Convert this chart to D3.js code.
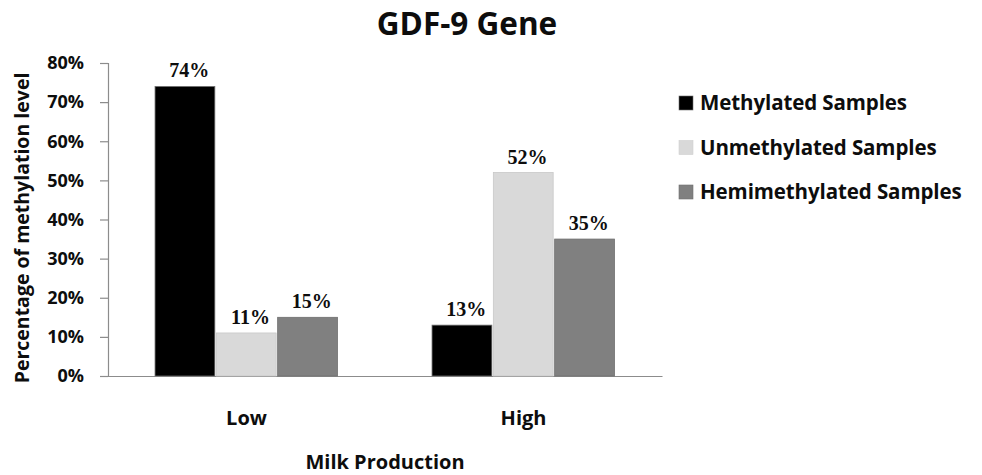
<!DOCTYPE html>
<html>
<head>
<meta charset="utf-8">
<script src="https://cdn.jsdelivr.net/npm/d3@7"></script>
<style>
  html, body { margin: 0; padding: 0; background: #fff; }
  svg { display: block; }
</style>
</head>
<body>
<svg id="chart" width="982" height="475"></svg>
<script>
// Milk production groups and methylation status series
const categories = ["Low", "High"];
const seriesNames = ["Methylated Samples", "Unmethylated Samples", "Hemimethylated Samples"];
const methylated = [74, 13];
const unmethylated = [11, 52];
const hemimethylated = [15, 35];
const yTicks = [0, 10, 20, 30, 40, 50, 60, 70, 80];
const seriesColors = ["#000000", "#d9d9d9", "#808080"];

const seriesValues = [methylated, unmethylated, hemimethylated];
const rows = categories.map((c, i) => ({
  category: c,
  values: seriesNames.map((s, j) => ({ series: s, idx: j, value: seriesValues[j][i] }))
}));

const svg = d3.select("#chart");
const sansFont = "'Open Sans', Lato, sans-serif";
const serifFont = "'Liberation Serif', 'DejaVu Serif', serif";
const ink = "#0d0d0d";

const plot = { left: 108, right: 662, top: 63, bottom: 376 };

const x0 = d3.scaleBand().domain(categories).range([plot.left, plot.right]).padding(0);
const groupWidth = x0.bandwidth() * 0.664;
const x1 = d3.scaleBand().domain(seriesNames).range([0, groupWidth]).padding(0);
const y = d3.scaleLinear().domain([0, 80]).range([plot.bottom, plot.top]);

// Y axis
const yAxis = svg.append("g")
  .attr("transform", `translate(${plot.left},0)`)
  .call(d3.axisLeft(y).tickValues(yTicks).tickSize(8).tickPadding(16).tickFormat(d => d + "%"));
yAxis.select(".domain").attr("stroke", "#8c8c8c").attr("stroke-width", 1.2);
yAxis.selectAll(".tick line").attr("stroke", "#8c8c8c").attr("stroke-width", 1.2);
yAxis.selectAll(".tick text")
  .attr("font-family", sansFont).attr("font-weight", "bold")
  .attr("font-size", 18).attr("fill", ink);

// X axis baseline and category labels
const xAxis = svg.append("g")
  .attr("transform", `translate(0,${plot.bottom})`)
  .call(d3.axisBottom(x0).tickSize(0).tickPadding(35));
xAxis.select(".domain").attr("stroke", "#8c8c8c").attr("stroke-width", 1.2);
xAxis.selectAll(".tick text")
  .attr("font-family", sansFont).attr("font-weight", "bold")
  .attr("font-size", 20).attr("fill", ink);

// Bars
const groups = svg.append("g").selectAll("g")
  .data(rows).join("g")
  .attr("transform", d => `translate(${x0(d.category) + (x0.bandwidth() - groupWidth) / 2},0)`);

groups.selectAll("rect")
  .data(d => d.values).join("rect")
  .attr("x", d => x1(d.series) + 0.5)
  .attr("width", x1.bandwidth() - 1.5)
  .attr("y", d => y(d.value))
  .attr("height", d => y(0) - y(d.value))
  .attr("fill", d => seriesColors[d.idx])
  .attr("stroke", d => d.idx === 1 ? "#c8c8c8" : "#6e6e6e")
  .attr("stroke-width", 0.8);

// Value labels above each bar
groups.selectAll("text")
  .data(d => d.values).join("text")
  .attr("x", d => x1(d.series) + x1.bandwidth() / 2 + 4)
  .attr("y", d => y(d.value) - 9)
  .attr("text-anchor", "middle")
  .attr("font-family", serifFont).attr("font-weight", "bold")
  .attr("font-size", 20).attr("fill", ink)
  .text(d => d.value + "%");

// Title
svg.append("text")
  .attr("x", 467).attr("y", 35)
  .attr("text-anchor", "middle")
  .attr("font-family", sansFont).attr("font-weight", "bold")
  .attr("font-size", 31.5).attr("fill", ink)
  .text("GDF-9 Gene");

// Axis titles
svg.append("text")
  .attr("transform", `translate(29,228) rotate(-90)`)
  .attr("text-anchor", "middle")
  .attr("font-family", sansFont).attr("font-weight", "bold")
  .attr("font-size", 19.5).attr("fill", ink)
  .text("Percentage of methylation level");

svg.append("text")
  .attr("x", (plot.left + plot.right) / 2).attr("y", 469)
  .attr("text-anchor", "middle")
  .attr("font-family", sansFont).attr("font-weight", "bold")
  .attr("font-size", 20).attr("fill", ink)
  .text("Milk Production");

// Legend
const legend = svg.append("g").selectAll("g")
  .data(seriesNames).join("g")
  .attr("transform", (d, i) => `translate(679,${110 + i * 44.5})`);
legend.append("rect")
  .attr("y", -14).attr("width", 14).attr("height", 14)
  .attr("fill", (d, i) => seriesColors[i])
  .attr("stroke", (d, i) => i === 1 ? "#cfcfcf" : "#6e6e6e").attr("stroke-width", 0.6);
legend.append("text")
  .attr("x", 21).attr("y", 0)
  .attr("font-family", sansFont).attr("font-weight", "bold")
  .attr("font-size", 20.5).attr("letter-spacing", -0.1).attr("fill", ink)
  .text(d => d);
</script>
</body>
</html>
